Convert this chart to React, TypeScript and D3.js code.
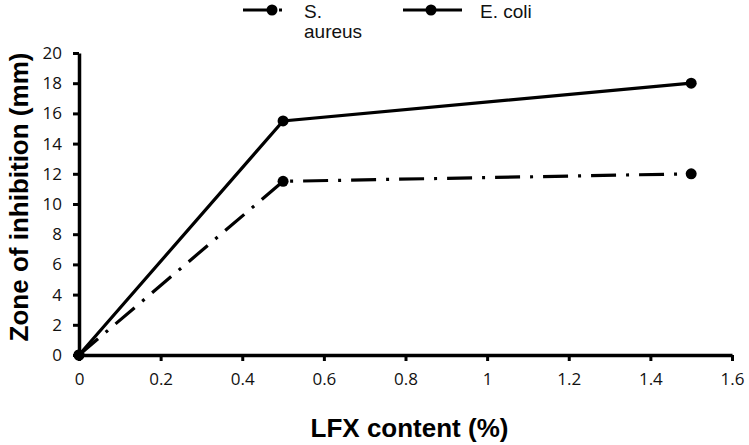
import React, { useEffect, useRef } from 'react';
import * as d3 from 'd3';

const lfxContent = [0, 0.5, 1.5];
const sAureus = [0, 11.5, 12];
const eColi = [0, 15.5, 18];
const xTicks = [0, 0.2, 0.4, 0.6, 0.8, 1, 1.2, 1.4, 1.6];
const yTicks = [0, 2, 4, 6, 8, 10, 12, 14, 16, 18, 20];

const series = [
  { name: 'S. aureus', values: sAureus, dash: '25,10,3,10' },
  { name: 'E. coli', values: eColi, dash: null },
];

const App = () => {
  const ref = useRef<SVGSVGElement>(null);

  useEffect(() => {
    const width = 749;
    const height = 445;
    const margin = { top: 53, right: 17, bottom: 90, left: 79 };
    const chartWidth = width - margin.left - margin.right;
    const chartHeight = height - margin.top - margin.bottom;

    const root = d3.select(ref.current);
    root.selectAll('*').remove();
    root.append('rect').attr('width', width).attr('height', height).attr('fill', '#fff');

    const svg = root.append('g').attr('transform', `translate(${margin.left},${margin.top})`);

    const x = d3.scaleLinear().domain([0, 1.6]).range([0, chartWidth]);
    const y = d3.scaleLinear().domain([0, 20]).range([chartHeight, 0]);

    const tickFont = "'Open Sans', 'Noto Sans', sans-serif";

    const xAxis = svg.append('g')
      .attr('transform', `translate(0,${chartHeight})`)
      .call(d3.axisBottom(x).tickValues(xTicks).tickSize(6).tickSizeOuter(0).tickPadding(12).tickFormat(d => `${d}`));
    const yAxis = svg.append('g')
      .call(d3.axisLeft(y).tickValues(yTicks).tickSize(6).tickSizeOuter(0).tickPadding(11));

    [xAxis, yAxis].forEach(ax => {
      ax.select('.domain').attr('stroke', '#000').attr('stroke-width', 3.5);
      ax.selectAll('.tick line').attr('stroke', '#000').attr('stroke-width', 3);
      ax.selectAll('.tick text')
        .attr('fill', '#111')
        .style('font-family', tickFont)
        .style('font-size', '17px');
    });

    const line = d3.line<number>()
      .x((_, i) => x(lfxContent[i]))
      .y(d => y(d));

    series.forEach(s => {
      svg.append('path')
        .datum(s.values)
        .attr('fill', 'none')
        .attr('stroke', '#000')
        .attr('stroke-width', 3.2)
        .attr('stroke-dasharray', s.dash)
        .attr('d', line);
      svg.selectAll(null)
        .data(s.values)
        .enter()
        .append('circle')
        .attr('cx', (_, i) => x(lfxContent[i]))
        .attr('cy', d => y(d))
        .attr('r', 5.5)
        .attr('fill', '#000');
    });

    // axis titles
    root.append('text')
      .attr('x', margin.left + chartWidth / 2 + 4)
      .attr('y', 437)
      .attr('text-anchor', 'middle')
      .style('font-family', "'Liberation Sans', Arial, sans-serif")
      .style('font-weight', 'bold')
      .style('font-size', '26px')
      .text('LFX content (%)');

    root.append('text')
      .attr('transform', `translate(28,197) rotate(-90)`)
      .attr('text-anchor', 'middle')
      .style('font-family', "'Liberation Sans', Arial, sans-serif")
      .style('font-weight', 'bold')
      .style('font-size', '26px')
      .text('Zone of inhibition (mm)');

    // legend
    const legendItems = [
      { x1: 243, x2: 283, mx: 272, tx: 304, lines: ['S.', 'aureus'], dash: '30,6,3,20' },
      { x1: 403, x2: 462, mx: 431, tx: 480, lines: ['E. coli'], dash: null },
    ];
    legendItems.forEach(item => {
      const g = root.append('g');
      g.append('line')
        .attr('x1', item.x1).attr('x2', item.x2)
        .attr('y1', 10).attr('y2', 10)
        .attr('stroke', '#000')
        .attr('stroke-width', 3.2)
        .attr('stroke-dasharray', item.dash);
      g.append('circle').attr('cx', item.mx).attr('cy', 10).attr('r', 5.5).attr('fill', '#000');
      item.lines.forEach((t, i) => {
        g.append('text')
          .attr('x', item.tx)
          .attr('y', 18 + i * 20)
          .style('font-family', "'Liberation Sans', Arial, sans-serif")
          .style('font-size', '19px')
          .attr('fill', '#111')
          .text(t);
      });
    });
  }, []);

  return <svg ref={ref} width={749} height={445} style={{ display: 'block', position: 'absolute', left: 0, top: 0 }} />;
};

export default App;
